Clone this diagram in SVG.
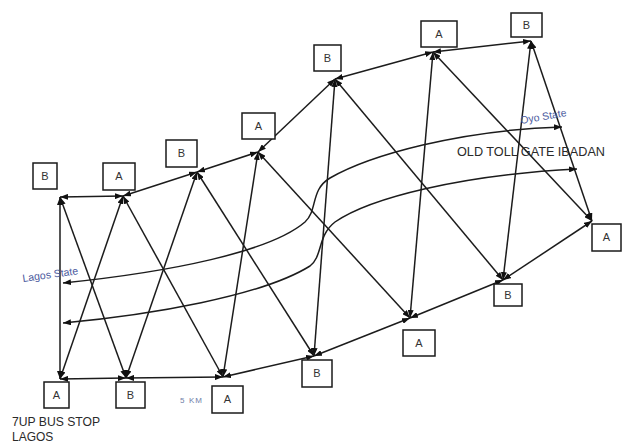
<svg xmlns="http://www.w3.org/2000/svg" width="622" height="444" viewBox="0 0 622 444">
<style>
.ln{stroke:#1c1c1c;stroke-width:1.5;fill:none;marker-start:url(#ah);marker-end:url(#ah)}
.bx{fill:#fff;stroke:#1a1a1a;stroke-width:1.5}
.lb{font-family:"Liberation Sans",Arial,sans-serif;font-size:11px;fill:#333;text-anchor:middle}
.tx{font-family:"Liberation Sans",Arial,sans-serif;fill:#2a2a2a}
.bl{font-family:"Liberation Sans",Arial,sans-serif;font-size:10.5px;fill:#4b5a9e}
</style>
<defs>
<marker id="ah" viewBox="0 0 8 6" refX="8" refY="3" markerWidth="8" markerHeight="6" markerUnits="userSpaceOnUse" orient="auto-start-reverse">
<path d="M0,0 L8,3 L0,6 z" fill="#111"/>
</marker>
</defs>
<rect width="622" height="444" fill="#fff"/>
<g id="connectors">
<line class="ln" x1="60" y1="379" x2="60" y2="197"/>
<line class="ln" x1="60" y1="197" x2="123" y2="196"/>
<line class="ln" x1="123" y1="196" x2="197" y2="172"/>
<line class="ln" x1="197" y1="172" x2="258" y2="152"/>
<line class="ln" x1="258" y1="152" x2="335" y2="79"/>
<line class="ln" x1="335" y1="79" x2="433" y2="52"/>
<line class="ln" x1="433" y1="52" x2="531" y2="41"/>
<line class="ln" x1="531" y1="41" x2="592" y2="221"/>
<line class="ln" x1="592" y1="221" x2="503" y2="280"/>
<line class="ln" x1="503" y1="280" x2="410" y2="318"/>
<line class="ln" x1="410" y1="318" x2="314" y2="356"/>
<line class="ln" x1="314" y1="356" x2="223" y2="377"/>
<line class="ln" x1="223" y1="377" x2="126" y2="378"/>
<line class="ln" x1="126" y1="378" x2="60" y2="379"/>
<line class="ln" x1="60" y1="197" x2="126" y2="378"/>
<line class="ln" x1="123" y1="196" x2="60" y2="379"/>
<line class="ln" x1="123" y1="196" x2="223" y2="377"/>
<line class="ln" x1="197" y1="172" x2="126" y2="378"/>
<line class="ln" x1="197" y1="172" x2="314" y2="356"/>
<line class="ln" x1="258" y1="152" x2="223" y2="377"/>
<line class="ln" x1="258" y1="152" x2="410" y2="318"/>
<line class="ln" x1="335" y1="79" x2="314" y2="356"/>
<line class="ln" x1="335" y1="79" x2="503" y2="280"/>
<line class="ln" x1="433" y1="52" x2="410" y2="318"/>
<line class="ln" x1="433" y1="52" x2="592" y2="221"/>
<line class="ln" x1="531" y1="41" x2="503" y2="280"/>
<path class="ln" d="M63,283 C170,272 270,252 305,222 C318,210 310,190 330,178 C370,155 460,130 562,127"/>
<path class="ln" d="M63,323 C150,315 262,296 310,266 C323,256 317,236 335,222 C370,198 460,175 577,169"/>
</g>
<g id="n-b1"><rect class="bx" x="33" y="163" width="24" height="26"/><text class="lb" x="45" y="180">B</text></g>
<g id="n-a1"><rect class="bx" x="103" y="163" width="32" height="27"/><text class="lb" x="119" y="180">A</text></g>
<g id="n-b2"><rect class="bx" x="166" y="140" width="31" height="27"/><text class="lb" x="181.5" y="157">B</text></g>
<g id="n-a3"><rect class="bx" x="242" y="113" width="33" height="26"/><text class="lb" x="258.5" y="130">A</text></g>
<g id="n-b4"><rect class="bx" x="314" y="45" width="27" height="26"/><text class="lb" x="327.5" y="62">B</text></g>
<g id="n-a5"><rect class="bx" x="421" y="21" width="36" height="26"/><text class="lb" x="439" y="38">A</text></g>
<g id="n-b6"><rect class="bx" x="511" y="13" width="31" height="24"/><text class="lb" x="526.5" y="29">B</text></g>
<g id="n-ar"><rect class="bx" x="592" y="224" width="29" height="27"/><text class="lb" x="606.5" y="241">A</text></g>
<g id="n-brl"><rect class="bx" x="494" y="284" width="28" height="22"/><text class="lb" x="508" y="299">B</text></g>
<g id="n-alow"><rect class="bx" x="403" y="330" width="32" height="26"/><text class="lb" x="419" y="347">A</text></g>
<g id="n-blm"><rect class="bx" x="302" y="360" width="30" height="27"/><text class="lb" x="317" y="377">B</text></g>
<g id="n-ab3"><rect class="bx" x="212" y="386" width="31" height="27"/><text class="lb" x="227.5" y="403">A</text></g>
<g id="n-bb2"><rect class="bx" x="116" y="382" width="29" height="26"/><text class="lb" x="130.5" y="399">B</text></g>
<g id="n-ab1"><rect class="bx" x="44" y="382" width="25" height="26"/><text class="lb" x="56.5" y="399">A</text></g>
<text class="bl" x="23" y="282" transform="rotate(-8 23 282)">Lagos State</text>
<text class="bl" x="521" y="124" transform="rotate(-10 521 124)">Oyo State</text>
<text class="tx" x="457" y="156" font-size="12" textLength="148" lengthAdjust="spacingAndGlyphs">OLD TOLL GATE IBADAN</text>
<text class="tx" x="12" y="426" font-size="12" textLength="88" lengthAdjust="spacingAndGlyphs">7UP BUS STOP</text>
<text class="tx" x="12" y="441" font-size="12">LAGOS</text>
<text x="180" y="403" font-family="Liberation Sans, Arial, sans-serif" font-size="8" fill="#7080a8" textLength="22">5 KM</text>
</svg>
